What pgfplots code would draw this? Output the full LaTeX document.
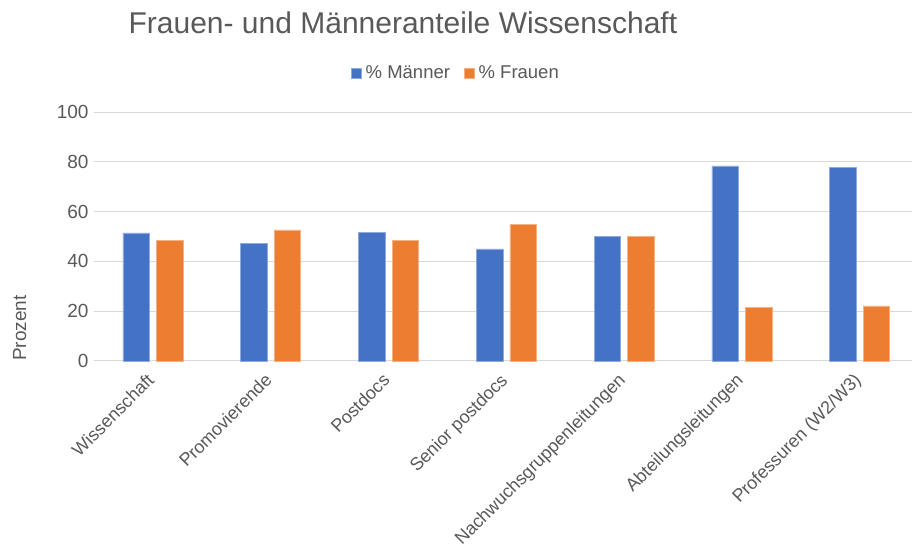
\documentclass[border=0pt]{standalone}
\usepackage{fontspec}
\setmainfont{Liberation Sans}
\usepackage{pgfplots}
\pgfplotsset{compat=1.18}
\definecolor{mblue}{HTML}{4472C4}
\definecolor{forange}{HTML}{ED7D31}
\definecolor{txt}{HTML}{595959}
\definecolor{gridc}{HTML}{D9D9D9}

\begin{document}
\begin{tikzpicture}
\begin{axis}[
  name=ax,
  scale only axis,
  width=818pt, height=248.5pt,
  ybar=7pt, bar width=26.5pt,
  xmin=-0.5, xmax=6.444,
  ymin=0, ymax=100,
  ytick={0,20,...,100},
  xtick=data,
  xticklabels={Wissenschaft,Promovierende,Postdocs,Senior postdocs,Nachwuchsgruppenleitungen,Abteilungsleitungen,Professuren (W2/W3)},
  tick label style={font=\fontsize{19}{19}\selectfont, text=txt},
  /pgf/number format/assume math mode=true,
  xticklabel style={font=\fontsize{18}{18}\selectfont, rotate=45, anchor=north east, inner sep=0pt, xshift=-13pt, yshift=-3pt},
  yticklabel style={xshift=-2pt},
  ymajorgrids, grid style={gridc, line width=1pt},
  axis line style={draw=none},
  major tick length=0pt,
  ylabel={Prozent},
  every axis y label/.style={at={(axis description cs:-0.091,0.132)}, rotate=90, anchor=center, font=\fontsize{19}{19}\selectfont, text=txt},
  legend style={at={(axis description cs:0.4425,1.157)}, anchor=center, draw=none, legend columns=-1, font=\fontsize{18.5}{18.5}\selectfont, text=txt,
    /tikz/every odd column/.append style={column sep=2pt},
    /tikz/every even column/.append style={column sep=12pt}},
  legend image code/.code={\fill[#1] (0pt,-5pt) rectangle (10pt,5pt);},
  clip=false,
]
\addplot[fill=mblue, draw=mblue!60!white, line width=0.6pt] coordinates {
  (0,51.5) (1,47.3) (2,51.7) (3,45.0) (4,50.0) (5,78.4) (6,77.9)
};
\addplot[fill=forange, draw=forange!60!white, line width=0.6pt] coordinates {
  (0,48.5) (1,52.7) (2,48.3) (3,55.0) (4,50.0) (5,21.6) (6,22.1)
};
\legend{\% Männer, \% Frauen}
\node[anchor=west, text=txt, font=\fontsize{30}{30}\selectfont] at (axis description cs:0.038,1.362) {Frauen- und Männeranteile Wissenschaft};
\end{axis}
\pgfresetboundingbox
\path ([shift={(-94pt,-195.3pt)}]ax.south west) rectangle ([shift={(0pt,112.3pt)}]ax.north east);
\end{tikzpicture}
\end{document}
